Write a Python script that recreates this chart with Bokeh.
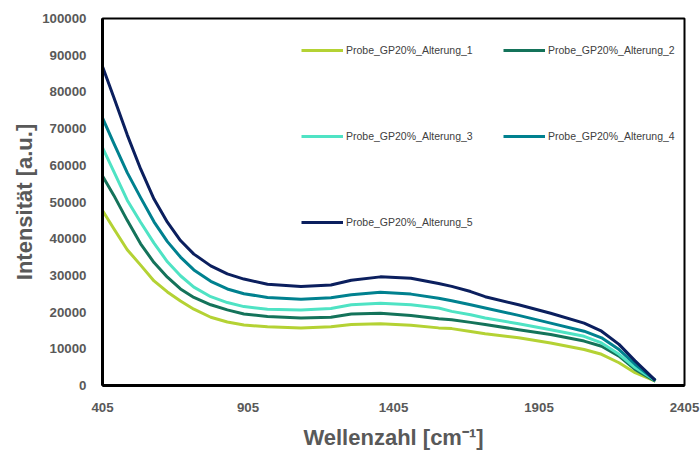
from bokeh.plotting import figure
from bokeh.models import FixedTicker, Legend, LegendItem, Range1d, PrintfTickFormatter
from bokeh.embed import file_html
from bokeh.resources import INLINE

wavenumber = [405, 444, 490, 536, 582, 628, 673, 719, 777, 834, 891, 972, 1087, 1190,
              1260, 1360, 1465, 1560, 1605, 1670, 1720, 1835, 1945, 2060, 2120, 2180, 2235, 2305]
alterung_1 = [47700, 42700, 37000, 32800, 28500, 25500, 23000, 20800, 18600, 17300, 16500, 16000, 15700, 16000,
              16600, 16800, 16400, 15700, 15500, 14700, 14100, 13000, 11600, 9800, 8500, 6200, 3500, 1200]
alterung_2 = [57100, 51800, 45000, 38600, 33500, 29500, 26300, 24000, 22000, 20600, 19500, 18800, 18400, 18600,
              19500, 19700, 19100, 18200, 17900, 17200, 16600, 15200, 13900, 12100, 10700, 8000, 4400, 1200]
alterung_3 = [64800, 58300, 50500, 44500, 38800, 33700, 29900, 26800, 24200, 22600, 21500, 20800, 20600, 21000,
              22000, 22400, 22000, 21100, 20200, 19300, 18400, 16800, 15200, 13400, 11600, 8500, 4900, 1400]
alterung_4 = [72900, 66000, 58000, 51200, 44600, 39200, 35000, 31500, 28400, 26300, 25000, 24000, 23500, 23900,
              24700, 25400, 24900, 23800, 23100, 22000, 21100, 19100, 17000, 14800, 13000, 9800, 5800, 1400]
alterung_5 = [86900, 78500, 68300, 59000, 50800, 44500, 39500, 35800, 32600, 30400, 29000, 27600, 27000, 27400,
              28700, 29600, 29200, 27800, 27000, 25600, 24200, 22000, 19700, 17000, 14800, 11200, 6700, 1400]

series_names = ["Probe_GP20%_Alterung_1", "Probe_GP20%_Alterung_2", "Probe_GP20%_Alterung_3",
                "Probe_GP20%_Alterung_4", "Probe_GP20%_Alterung_5"]
series_values = [alterung_1, alterung_2, alterung_3, alterung_4, alterung_5]
series_colors = ["#b4d234", "#14735a", "#4fe3c4", "#00818f", "#0b1f5e"]

x_ticks = [405, 905, 1405, 1905, 2405]
y_ticks = list(range(0, 100001, 10000))

p = figure(width=700, height=452, output_backend="svg", toolbar_location=None,
           x_range=Range1d(405, 2405), y_range=Range1d(0, 100000),
           min_border_left=102, min_border_right=16, min_border_top=18, min_border_bottom=64)

p.background_fill_color = "white"
p.border_fill_color = "white"
p.outline_line_color = "black"
p.outline_line_width = 2
p.grid.visible = False

renderers = []
for name, vals, col in zip(series_names, series_values, series_colors):
    r = p.line(wavenumber, vals, line_color=col, line_width=3, line_join="round")
    renderers.append(r)

for ax in (p.xaxis[0], p.yaxis[0]):
    ax.axis_line_color = "black"
    ax.axis_line_width = 3
    ax.major_tick_line_color = None
    ax.minor_tick_line_color = None
    ax.major_label_text_font = "Liberation Sans"
    ax.major_label_text_font_style = "bold"
    ax.major_label_text_font_size = "13.3px"
    ax.major_label_text_color = "#595959"
    ax.axis_label_text_font = "Liberation Sans"
    ax.axis_label_text_font_style = "bold"
    ax.axis_label_text_font_size = "22px"
    ax.axis_label_text_color = "#595959"

p.xaxis.ticker = FixedTicker(ticks=x_ticks)
p.yaxis.ticker = FixedTicker(ticks=y_ticks)
p.yaxis.formatter = PrintfTickFormatter(format="%d")
p.xaxis.major_label_standoff = 11
p.yaxis.major_label_standoff = 10
p.xaxis.axis_label = "Wellenzahl [cm\u207b\u00b9]"
p.yaxis.axis_label = "Intensität [a.u.]"
p.xaxis.axis_label_standoff = 10
p.yaxis.axis_label_standoff = 2


def make_legend(idx, loc):
    lg = Legend(items=[LegendItem(label=series_names[i], renderers=[renderers[i]]) for i in idx],
                location=loc, orientation="vertical", spacing=74, padding=0, margin=0,
                glyph_width=42, glyph_height=10, label_height=10, label_standoff=3,
                label_text_font="Liberation Sans", label_text_font_size="10.5px",
                label_text_color="#404040", border_line_color=None, background_fill_alpha=0)
    return lg


p.add_layout(make_legend([0, 2, 4], (199, 157)))
p.add_layout(make_legend([1, 3], (401, 243)))

open("out.html", "w").write(file_html(p, INLINE))
